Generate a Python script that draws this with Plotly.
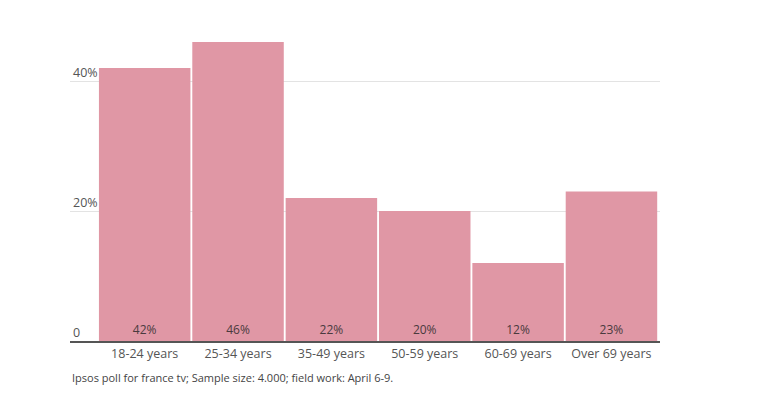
import plotly.graph_objects as go

categories = ["18-24 years", "25-34 years", "35-49 years", "50-59 years", "60-69 years", "Over 69 years"]
values = [42, 46, 22, 20, 12, 23]
labels = [f"{v}%" for v in values]
y_tickvals = [0, 20, 40]
y_ticktext = ["0", "20%", "40%"]
source = "Ipsos poll for france tv; Sample size: 4.000; field work: April 6-9."

FONT = "Open Sans, sans-serif"

fig = go.Figure(go.Bar(
    x=categories, y=values, text=labels,
    textposition="inside", insidetextanchor="start",
    insidetextfont=dict(family=FONT, size=12, color="#4a3a3e"),
    textangle=0,
    marker=dict(color="#e097a5", line=dict(width=0)),
    hoverinfo="skip",
))

fig.update_layout(
    width=760, height=400,
    margin=dict(l=62, r=108, t=8, b=67),
    plot_bgcolor="white", paper_bgcolor="white",
    bargap=0.02,
    showlegend=False,
    font=dict(family=FONT, size=13, color="#555555"),
    xaxis=dict(
        type="category", range=[-0.8, 5.52], automargin=False,
        showline=True, linecolor="#555555", linewidth=2,
        ticks="", showgrid=False,
        tickfont=dict(size=12.5, color="#555555"),
    ),
    yaxis=dict(
        range=[0, 50], tickvals=y_tickvals, ticktext=y_ticktext, automargin=False,
        ticklabelposition="inside top",
        showgrid=True, gridcolor="#e3e3e3", gridwidth=1,
        zeroline=False, showline=False, ticks="",
        tickfont=dict(size=12.5, color="#555555"),
    ),
    annotations=[dict(
        text=source, xref="paper", yref="paper", x=0, y=0,
        xanchor="left", yanchor="top", yshift=-27, showarrow=False,
        font=dict(family=FONT, size=11, color="#444444"),
    )],
)

fig.write_html("out.html")
